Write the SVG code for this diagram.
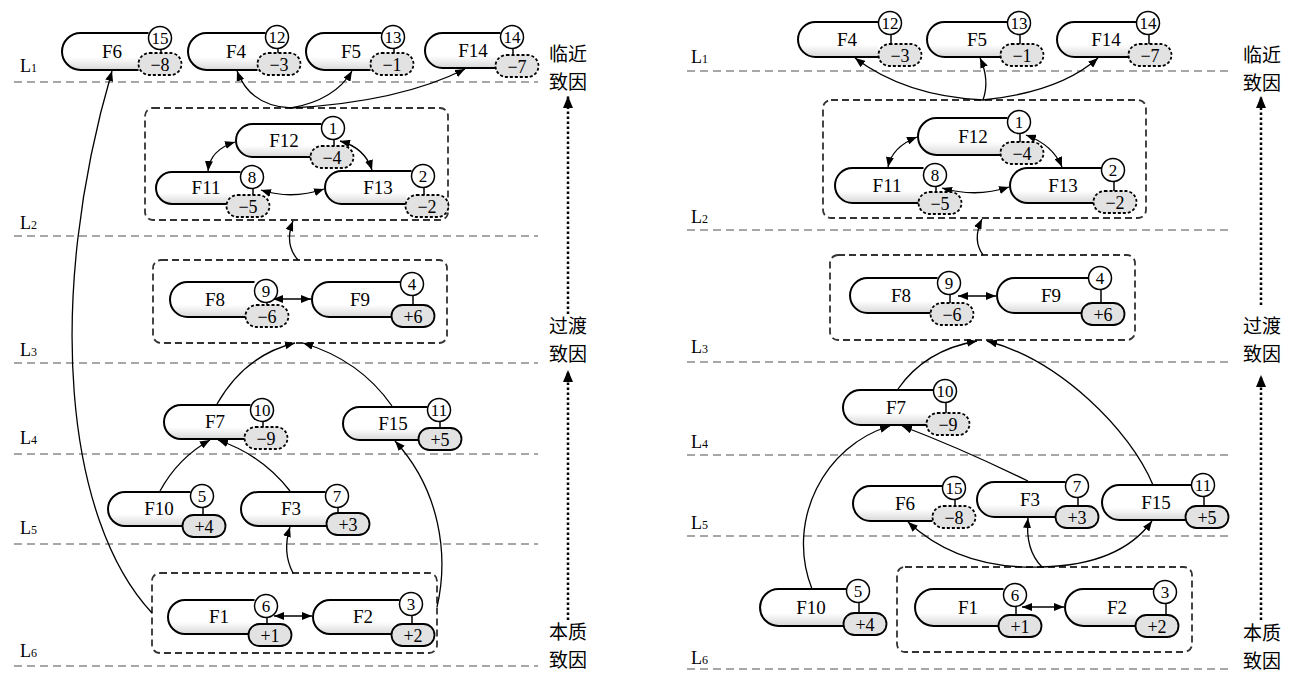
<svg xmlns="http://www.w3.org/2000/svg" width="1292" height="674" viewBox="0 0 1292 674">
<defs>
<style>
.lvl{stroke:#8a8a8a;stroke-width:1.6;stroke-dasharray:8 5;fill:none}
.grp{fill:none;stroke:#333;stroke-width:1.8;stroke-dasharray:7 4}
.shape{fill:url(#ng);stroke:#000;stroke-width:2}
.num{fill:#fff;stroke:#000;stroke-width:1.5}
.neg{fill:#e2e2e2;stroke:#000;stroke-width:1.8;stroke-dasharray:3 2}
.pos{fill:#e2e2e2;stroke:#000;stroke-width:1.8}
.tick{stroke:#000;stroke-width:1.5}
text{font-family:"Liberation Serif",serif;fill:#000}
.lbl{font-size:19px;text-anchor:middle}
.nt{font-size:17px;text-anchor:middle}
.vt{font-size:18px;text-anchor:middle}
.cn{font-family:"Noto Sans CJK SC",sans-serif;font-size:19px;text-anchor:middle}
.lv{font-size:18px}
.c{fill:none;stroke:#000;stroke-width:1.3}
.dot{stroke:#000;stroke-width:2.5;stroke-dasharray:2.5 2.5;fill:none}
</style>
<linearGradient id="ng" x1="0" y1="0" x2="0" y2="1">
<stop offset="0" stop-color="#fff"/><stop offset="0.65" stop-color="#fff"/><stop offset="1" stop-color="#d8d8d8"/>
</linearGradient>
<marker id="ah" viewBox="0 0 10 8" refX="10" refY="4" markerWidth="10" markerHeight="8" markerUnits="userSpaceOnUse" orient="auto-start-reverse"><path d="M0,0 L10,4 L0,8 Z" fill="#000"/></marker>
<marker id="dh" viewBox="0 0 12 10" refX="12" refY="5" markerWidth="12" markerHeight="10" markerUnits="userSpaceOnUse" orient="auto"><path d="M0,0 L12,5 L0,10 Z" fill="#000"/></marker>
</defs>
<rect width="1292" height="674" fill="#fff"/>

<g id="levels">
<line class="lvl" x1="14" y1="82" x2="538" y2="82"/>
<line class="lvl" x1="14" y1="236" x2="538" y2="236"/>
<line class="lvl" x1="14" y1="363" x2="538" y2="363"/>
<line class="lvl" x1="14" y1="454" x2="538" y2="454"/>
<line class="lvl" x1="14" y1="544" x2="538" y2="544"/>
<line class="lvl" x1="14" y1="666" x2="538" y2="666"/>
<line class="lvl" x1="687" y1="71" x2="1228" y2="71"/>
<line class="lvl" x1="687" y1="230" x2="1228" y2="230"/>
<line class="lvl" x1="687" y1="362" x2="1228" y2="362"/>
<line class="lvl" x1="687" y1="455" x2="1228" y2="455"/>
<line class="lvl" x1="687" y1="536" x2="1228" y2="536"/>
<line class="lvl" x1="687" y1="669" x2="1228" y2="669"/>
<text class="lv" x="20" y="72">L<tspan font-size="12">1</tspan></text>
<text class="lv" x="20" y="229">L<tspan font-size="12">2</tspan></text>
<text class="lv" x="20" y="356">L<tspan font-size="12">3</tspan></text>
<text class="lv" x="20" y="444">L<tspan font-size="12">4</tspan></text>
<text class="lv" x="20" y="534">L<tspan font-size="12">5</tspan></text>
<text class="lv" x="20" y="657">L<tspan font-size="12">6</tspan></text>
<text class="lv" x="691" y="63">L<tspan font-size="12">1</tspan></text>
<text class="lv" x="691" y="223">L<tspan font-size="12">2</tspan></text>
<text class="lv" x="691" y="353">L<tspan font-size="12">3</tspan></text>
<text class="lv" x="691" y="448">L<tspan font-size="12">4</tspan></text>
<text class="lv" x="691" y="529">L<tspan font-size="12">5</tspan></text>
<text class="lv" x="691" y="664">L<tspan font-size="12">6</tspan></text>
</g>

<g id="stage-labels">
<text class="cn" x="568" y="61">临近</text>
<text class="cn" x="568" y="89">致因</text>
<text class="cn" x="568" y="333">过渡</text>
<text class="cn" x="568" y="361">致因</text>
<text class="cn" x="568" y="639">本质</text>
<text class="cn" x="568" y="667">致因</text>
<text class="cn" x="1262" y="62">临近</text>
<text class="cn" x="1262" y="90">致因</text>
<text class="cn" x="1262" y="333">过渡</text>
<text class="cn" x="1262" y="361">致因</text>
<text class="cn" x="1262" y="640">本质</text>
<text class="cn" x="1262" y="668">致因</text>
<line class="dot" x1="568" y1="314" x2="568" y2="96" marker-end="url(#dh)"/>
<line class="dot" x1="568" y1="620" x2="568" y2="370" marker-end="url(#dh)"/>
<line class="dot" x1="1261" y1="305" x2="1261" y2="96" marker-end="url(#dh)"/>
<line class="dot" x1="1261" y1="620" x2="1261" y2="375" marker-end="url(#dh)"/>
</g>

<g id="groups">
<rect id="L-G2" class="grp" x="145" y="108" width="303" height="112" rx="8"/>
<rect id="L-G3" class="grp" x="153" y="260" width="294" height="83" rx="8"/>
<rect id="L-G6" class="grp" x="152" y="573" width="285" height="80" rx="8"/>
<rect id="R-G2" class="grp" x="823" y="100" width="323" height="118" rx="8"/>
<rect id="R-G3" class="grp" x="830" y="255" width="305" height="85" rx="8"/>
<rect id="R-G6" class="grp" x="897" y="567" width="295" height="85" rx="8"/>
</g>

<g id="connectors">
<path class="c" marker-end="url(#ah)" d="M291,108 Q250,106 237,71"/>
<path class="c" marker-end="url(#ah)" d="M291,108 Q335,100 352,71"/>
<path class="c" marker-end="url(#ah)" d="M291,108 Q400,102 465,69"/>
<path class="c" marker-start="url(#ah)" marker-end="url(#ah)" d="M235,142 Q210,150 208,171"/>
<path class="c" marker-start="url(#ah)" marker-end="url(#ah)" d="M340,141 Q365,148 372,170"/>
<path class="c" marker-start="url(#ah)" marker-end="url(#ah)" d="M261,190 Q292,200 324,189"/>
<path class="c" marker-end="url(#ah)" d="M298,260 Q284,244 293,221"/>
<path class="c" marker-start="url(#ah)" marker-end="url(#ah)" d="M273,299 L311,299"/>
<path class="c" marker-end="url(#ah)" d="M217,404 Q245,355 295,343"/>
<path class="c" marker-end="url(#ah)" d="M392,406 Q360,360 303,343"/>
<path class="c" marker-end="url(#ah)" d="M160,491 Q178,458 210,440"/>
<path class="c" marker-end="url(#ah)" d="M290,491 Q262,455 218,440"/>
<path class="c" marker-end="url(#ah)" d="M437,607 C449,555 440,490 395,441"/>
<path class="c" marker-end="url(#ah)" d="M152,613 C65,520 45,300 112,71"/>
<path class="c" marker-end="url(#ah)" d="M293,573 Q282,552 290,527"/>
<path class="c" marker-start="url(#ah)" marker-end="url(#ah)" d="M274,616 L312,616"/>

<path class="c" marker-end="url(#ah)" d="M983,100 Q905,96 855,58"/>
<path class="c" marker-end="url(#ah)" d="M983,100 Q990,80 980,58"/>
<path class="c" marker-end="url(#ah)" d="M983,100 Q1060,92 1098,58"/>
<path class="c" marker-start="url(#ah)" marker-end="url(#ah)" d="M917,137 Q892,147 888,167"/>
<path class="c" marker-start="url(#ah)" marker-end="url(#ah)" d="M1026,135 Q1053,145 1062,167"/>
<path class="c" marker-start="url(#ah)" marker-end="url(#ah)" d="M942,188 Q976,198 1009,187"/>
<path class="c" marker-end="url(#ah)" d="M983,255 Q972,240 982,219"/>
<path class="c" marker-start="url(#ah)" marker-end="url(#ah)" d="M958,296 L996,296"/>
<path class="c" marker-end="url(#ah)" d="M898,389 Q925,350 977,341"/>
<path class="c" marker-end="url(#ah)" d="M1153,485 C1130,430 1060,360 987,341"/>
<path class="c" marker-end="url(#ah)" d="M812,589 C785,520 825,445 890,426"/>
<path class="c" marker-end="url(#ah)" d="M1028,481 Q960,448 902,426"/>
<path class="c" marker-end="url(#ah)" d="M1042,567 Q960,570 908,522"/>
<path class="c" marker-end="url(#ah)" d="M1042,567 Q1025,550 1028,518"/>
<path class="c" marker-end="url(#ah)" d="M1042,567 Q1120,565 1152,521"/>
<path class="c" marker-start="url(#ah)" marker-end="url(#ah)" d="M1022,607 L1064,607"/>
</g>

<!-- Left panel nodes -->
<g id="L-F6"><path class="shape" d="M148.5,33 H80.5 A18.5,18.5 0 0 0 80.5,70 H138.5"/><text class="lbl" x="112" y="58">F6</text><line class="tick" x1="161" y1="49" x2="161" y2="53"/><rect class="neg" x="138.5" y="53" width="43" height="22" rx="11"/><text class="vt" x="160" y="70.5">−8</text><circle class="num" cx="160" cy="38" r="11.5"/><text class="nt" x="160" y="44">15</text></g>
<g id="L-F4"><path class="shape" d="M265.5,33 H206.5 A18.5,18.5 0 0 0 206.5,70 H257.5"/><text class="lbl" x="236" y="58">F4</text><line class="tick" x1="278" y1="48" x2="278" y2="53"/><rect class="neg" x="257.5" y="53" width="43" height="22" rx="11"/><text class="vt" x="279" y="70.5">−3</text><circle class="num" cx="277" cy="37" r="11.5"/><text class="nt" x="277" y="43">12</text></g>
<g id="L-F5"><path class="shape" d="M381.5,33 H324.5 A18.5,18.5 0 0 0 324.5,70 H370.5"/><text class="lbl" x="351" y="58">F5</text><line class="tick" x1="394" y1="48" x2="394" y2="53"/><rect class="neg" x="370.5" y="53" width="43" height="22" rx="11"/><text class="vt" x="392" y="70.5">−1</text><circle class="num" cx="393" cy="37" r="11.5"/><text class="nt" x="393" y="43">13</text></g>
<g id="L-F14"><path class="shape" d="M500.5,33 H442.5 A17.5,17.5 0 0 0 442.5,68 H495.5"/><text class="lbl" x="473" y="57">F14</text><line class="tick" x1="513" y1="48" x2="513" y2="55"/><rect class="neg" x="495.5" y="55" width="43" height="22" rx="11"/><text class="vt" x="517" y="72.5">−7</text><circle class="num" cx="512" cy="37" r="11.5"/><text class="nt" x="512" y="43">14</text></g>
<g id="L-F12"><path class="shape" d="M321.5,124 H252.5 A16.5,16.5 0 0 0 252.5,157 H310.5"/><text class="lbl" x="284" y="146.5">F12</text><line class="tick" x1="334" y1="139" x2="334" y2="146"/><rect class="neg" x="310.5" y="146" width="43" height="22" rx="11"/><text class="vt" x="332" y="163.5">−4</text><circle class="num" cx="333" cy="128" r="11.5"/><text class="nt" x="333" y="134">1</text></g>
<g id="L-F11"><path class="shape" d="M240.5,172 H172 A16,16 0 0 0 172,204 H226.5"/><text class="lbl" x="206" y="194">F11</text><line class="tick" x1="253" y1="188" x2="253" y2="195"/><rect class="neg" x="226.5" y="195" width="43" height="22" rx="11"/><text class="vt" x="248" y="212.5">−5</text><circle class="num" cx="252" cy="177" r="11.5"/><text class="nt" x="252" y="183">8</text></g>
<g id="L-F13"><path class="shape" d="M411.5,171 H341.5 A16.5,16.5 0 0 0 341.5,204 H405.5"/><text class="lbl" x="378" y="193.5">F13</text><line class="tick" x1="424" y1="187" x2="424" y2="195"/><rect class="neg" x="405.5" y="195" width="43" height="22" rx="11"/><text class="vt" x="427" y="212.5">−2</text><circle class="num" cx="423" cy="176" r="11.5"/><text class="nt" x="423" y="182">2</text></g>
<g id="L-F8"><path class="shape" d="M254.5,282 H187.5 A17.5,17.5 0 0 0 187.5,317 H245.5"/><text class="lbl" x="215" y="305.5">F8</text><line class="tick" x1="267" y1="302" x2="267" y2="305"/><rect class="neg" x="245.5" y="305" width="43" height="22" rx="11"/><text class="vt" x="267" y="322.5">−6</text><circle class="num" cx="266" cy="291" r="11.5"/><text class="nt" x="266" y="297">9</text></g>
<g id="L-F9"><path class="shape" d="M400.5,282 H329.5 A17.5,17.5 0 0 0 329.5,317 H391.5"/><text class="lbl" x="360" y="305.5">F9</text><line class="tick" x1="413" y1="295" x2="413" y2="305"/><rect class="pos" x="391.5" y="305" width="43" height="22" rx="11"/><text class="vt" x="413" y="322.5">+6</text><circle class="num" cx="412" cy="284" r="11.5"/><text class="nt" x="412" y="290">4</text></g>
<g id="L-F7"><path class="shape" d="M250.5,405 H181 A17,17 0 0 0 181,439 H244.5"/><text class="lbl" x="215" y="428">F7</text><line class="tick" x1="263" y1="421" x2="263" y2="427"/><rect class="neg" x="244.5" y="427" width="43" height="22" rx="11"/><text class="vt" x="266" y="444.5">−9</text><circle class="num" cx="262" cy="410" r="11.5"/><text class="nt" x="262" y="416">10</text></g>
<g id="L-F15"><path class="shape" d="M427.5,407 H359.5 A16.5,16.5 0 0 0 359.5,440 H418.5"/><text class="lbl" x="393" y="429.5">F15</text><line class="tick" x1="440" y1="421" x2="440" y2="428"/><rect class="pos" x="418.5" y="428" width="43" height="22" rx="11"/><text class="vt" x="440" y="445.5">+5</text><circle class="num" cx="439" cy="410" r="11.5"/><text class="nt" x="439" y="416">11</text></g>
<g id="L-F10"><path class="shape" d="M190.5,492 H125 A17,17 0 0 0 125,526 H182.5"/><text class="lbl" x="159" y="515">F10</text><line class="tick" x1="203" y1="507" x2="203" y2="515"/><rect class="pos" x="182.5" y="515" width="43" height="22" rx="11"/><text class="vt" x="204" y="532.5">+4</text><circle class="num" cx="202" cy="496" r="11.5"/><text class="nt" x="202" y="502">5</text></g>
<g id="L-F3"><path class="shape" d="M325.5,492 H258 A17,17 0 0 0 258,526 H326.5"/><text class="lbl" x="291" y="515">F3</text><line class="tick" x1="338" y1="507" x2="338" y2="513"/><rect class="pos" x="326.5" y="513" width="43" height="22" rx="11"/><text class="vt" x="348" y="530.5">+3</text><circle class="num" cx="337" cy="496" r="11.5"/><text class="nt" x="337" y="502">7</text></g>
<g id="L-F1"><path class="shape" d="M254.5,600 H185 A17,17 0 0 0 185,634 H248.5"/><text class="lbl" x="219" y="623">F1</text><line class="tick" x1="267" y1="617" x2="267" y2="624"/><rect class="pos" x="248.5" y="624" width="43" height="22" rx="11"/><text class="vt" x="270" y="641.5">+1</text><circle class="num" cx="266" cy="606" r="11.5"/><text class="nt" x="266" y="612">6</text></g>
<g id="L-F2"><path class="shape" d="M399.5,600 H330 A17,17 0 0 0 330,634 H391.5"/><text class="lbl" x="363" y="623">F2</text><line class="tick" x1="412" y1="615" x2="412" y2="624"/><rect class="pos" x="391.5" y="624" width="43" height="22" rx="11"/><text class="vt" x="413" y="641.5">+2</text><circle class="num" cx="411" cy="604" r="11.5"/><text class="nt" x="411" y="610">3</text></g>

<!-- Right panel nodes -->
<g id="R-F4"><path class="shape" d="M878.5,22 H815.5 A17.5,17.5 0 0 0 815.5,57 H878.5"/><text class="lbl" x="847" y="45.5">F4</text><line class="tick" x1="891" y1="34" x2="891" y2="44"/><rect class="neg" x="878.5" y="44" width="43" height="22" rx="11"/><text class="vt" x="900" y="61.5">−3</text><circle class="num" cx="890" cy="23" r="11.5"/><text class="nt" x="890" y="29">12</text></g>
<g id="R-F5"><path class="shape" d="M1007.5,22 H944.5 A17.5,17.5 0 0 0 944.5,57 H1000.5"/><text class="lbl" x="977" y="45.5">F5</text><line class="tick" x1="1020" y1="34" x2="1020" y2="44"/><rect class="neg" x="1000.5" y="44" width="43" height="22" rx="11"/><text class="vt" x="1022" y="61.5">−1</text><circle class="num" cx="1019" cy="23" r="11.5"/><text class="nt" x="1019" y="29">13</text></g>
<g id="R-F14"><path class="shape" d="M1136.5,22 H1074.5 A17.5,17.5 0 0 0 1074.5,57 H1128.5"/><text class="lbl" x="1106" y="45.5">F14</text><line class="tick" x1="1149" y1="34" x2="1149" y2="44"/><rect class="neg" x="1128.5" y="44" width="43" height="22" rx="11"/><text class="vt" x="1150" y="61.5">−7</text><circle class="num" cx="1148" cy="23" r="11.5"/><text class="nt" x="1148" y="29">14</text></g>
<g id="R-F12"><path class="shape" d="M1007.5,118 H936.5 A18.5,18.5 0 0 0 936.5,155 H1000.5"/><text class="lbl" x="973" y="142.5">F12</text><line class="tick" x1="1020" y1="133" x2="1020" y2="142"/><rect class="neg" x="1000.5" y="142" width="43" height="22" rx="11"/><text class="vt" x="1022" y="159.5">−4</text><circle class="num" cx="1019" cy="122" r="11.5"/><text class="nt" x="1019" y="128">1</text></g>
<g id="R-F11"><path class="shape" d="M923.5,168 H852.5 A17.5,17.5 0 0 0 852.5,203 H918.5"/><text class="lbl" x="887" y="191.5">F11</text><line class="tick" x1="936" y1="186" x2="936" y2="192"/><rect class="neg" x="918.5" y="192" width="43" height="22" rx="11"/><text class="vt" x="940" y="209.5">−5</text><circle class="num" cx="935" cy="175" r="11.5"/><text class="nt" x="935" y="181">8</text></g>
<g id="R-F13"><path class="shape" d="M1101.5,168 H1027.5 A17.5,17.5 0 0 0 1027.5,203 H1093.5"/><text class="lbl" x="1063" y="191.5">F13</text><line class="tick" x1="1114" y1="181" x2="1114" y2="191"/><rect class="neg" x="1093.5" y="191" width="43" height="22" rx="11"/><text class="vt" x="1115" y="208.5">−2</text><circle class="num" cx="1113" cy="170" r="11.5"/><text class="nt" x="1113" y="176">2</text></g>
<g id="R-F8"><path class="shape" d="M937.5,278 H867.5 A17.5,17.5 0 0 0 867.5,313 H930.5"/><text class="lbl" x="901" y="301.5">F8</text><line class="tick" x1="950" y1="294" x2="950" y2="303"/><rect class="neg" x="930.5" y="303" width="43" height="22" rx="11"/><text class="vt" x="952" y="320.5">−6</text><circle class="num" cx="949" cy="283" r="11.5"/><text class="nt" x="949" y="289">9</text></g>
<g id="R-F9"><path class="shape" d="M1088.5,278 H1014.5 A17.5,17.5 0 0 0 1014.5,313 H1081.5"/><text class="lbl" x="1051" y="301.5">F9</text><line class="tick" x1="1101" y1="289" x2="1101" y2="303"/><rect class="pos" x="1081.5" y="303" width="43" height="22" rx="11"/><text class="vt" x="1103" y="320.5">+6</text><circle class="num" cx="1100" cy="278" r="11.5"/><text class="nt" x="1100" y="284">4</text></g>
<g id="R-F7"><path class="shape" d="M933.5,390 H860.5 A17.5,17.5 0 0 0 860.5,425 H926.5"/><text class="lbl" x="896" y="413.5">F7</text><line class="tick" x1="946" y1="402" x2="946" y2="413"/><rect class="neg" x="926.5" y="413" width="43" height="22" rx="11"/><text class="vt" x="948" y="430.5">−9</text><circle class="num" cx="945" cy="391" r="11.5"/><text class="nt" x="945" y="397">10</text></g>
<g id="R-F6"><path class="shape" d="M942.5,486 H870.5 A17.5,17.5 0 0 0 870.5,521 H932.5"/><text class="lbl" x="905" y="509.5">F6</text><line class="tick" x1="955" y1="499" x2="955" y2="506"/><rect class="neg" x="932.5" y="506" width="43" height="22" rx="11"/><text class="vt" x="954" y="523.5">−8</text><circle class="num" cx="954" cy="488" r="11.5"/><text class="nt" x="954" y="494">15</text></g>
<g id="R-F3"><path class="shape" d="M1065.5,482 H994.5 A17.5,17.5 0 0 0 994.5,517 H1055.5"/><text class="lbl" x="1030" y="505.5">F3</text><line class="tick" x1="1078" y1="497" x2="1078" y2="506"/><rect class="pos" x="1055.5" y="506" width="43" height="22" rx="11"/><text class="vt" x="1077" y="523.5">+3</text><circle class="num" cx="1077" cy="486" r="11.5"/><text class="nt" x="1077" y="492">7</text></g>
<g id="R-F15"><path class="shape" d="M1191.5,485 H1119.5 A17.5,17.5 0 0 0 1119.5,520 H1185.5"/><text class="lbl" x="1156" y="508.5">F15</text><line class="tick" x1="1204" y1="496" x2="1204" y2="506"/><rect class="pos" x="1185.5" y="506" width="43" height="22" rx="11"/><text class="vt" x="1207" y="523.5">+5</text><circle class="num" cx="1203" cy="485" r="11.5"/><text class="nt" x="1203" y="491">11</text></g>
<g id="R-F10"><path class="shape" d="M846.5,589 H778.5 A18.5,18.5 0 0 0 778.5,626 H843.5"/><text class="lbl" x="811" y="613.5">F10</text><line class="tick" x1="859" y1="602" x2="859" y2="613"/><rect class="pos" x="843.5" y="613" width="43" height="22" rx="11"/><text class="vt" x="865" y="630.5">+4</text><circle class="num" cx="858" cy="591" r="11.5"/><text class="nt" x="858" y="597">5</text></g>
<g id="R-F1"><path class="shape" d="M1003.5,589 H933.5 A18.5,18.5 0 0 0 933.5,626 H998.5"/><text class="lbl" x="968" y="613.5">F1</text><line class="tick" x1="1016" y1="606" x2="1016" y2="615"/><rect class="pos" x="998.5" y="615" width="43" height="22" rx="11"/><text class="vt" x="1020" y="632.5">+1</text><circle class="num" cx="1015" cy="595" r="11.5"/><text class="nt" x="1015" y="601">6</text></g>
<g id="R-F2"><path class="shape" d="M1153.5,589 H1083.5 A18.5,18.5 0 0 0 1083.5,626 H1135.5"/><text class="lbl" x="1117" y="613.5">F2</text><line class="tick" x1="1166" y1="603" x2="1166" y2="615"/><rect class="pos" x="1135.5" y="615" width="43" height="22" rx="11"/><text class="vt" x="1157" y="632.5">+2</text><circle class="num" cx="1165" cy="592" r="11.5"/><text class="nt" x="1165" y="598">3</text></g>
</svg>
